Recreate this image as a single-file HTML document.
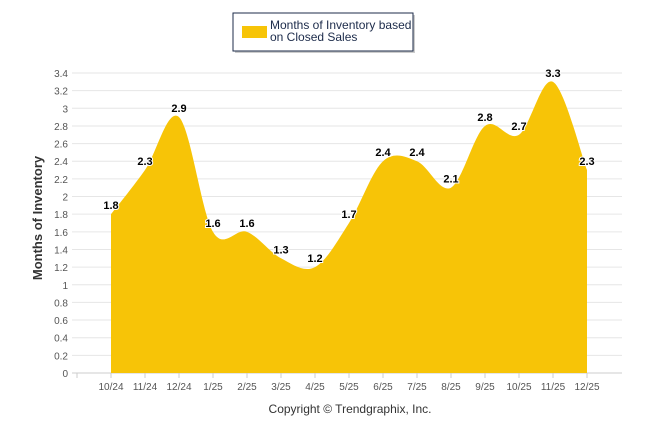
<!DOCTYPE html>
<html><head><meta charset="utf-8"><style>
body{margin:0;background:#fff;font-family:"Liberation Sans",sans-serif}
svg text{font-family:"Liberation Sans",sans-serif}
</style></head><body>
<svg id="c" width="646" height="434">
 <g>
  <rect x="235" y="15" width="180" height="38" fill="#999" opacity="0.5"/>
  <rect x="233" y="13" width="180" height="38" fill="#fff" stroke="#1c2b4a" stroke-width="1"/>
  <rect x="242" y="26" width="25" height="12" fill="#f7c407"/>
  <text x="270" y="29" font-size="12" fill="#1c2b4a">Months of Inventory based</text>
  <text x="270" y="41" font-size="12" fill="#1c2b4a">on Closed Sales</text>
 </g>
 <g id="grid"></g>
 <path id="area" fill="#f7c407"/>
 <g id="labels"></g>
 <text transform="translate(42,218) rotate(-90)" text-anchor="middle" font-size="13" font-weight="bold" fill="#333">Months of Inventory</text>
 <text x="350" y="413" text-anchor="middle" font-size="12" fill="#333">Copyright © Trendgraphix, Inc.</text>
</svg>
<script>
const categories=["10/24","11/24","12/24","1/25","2/25","3/25","4/25","5/25","6/25","7/25","8/25","9/25","10/25","11/25","12/25"];
const values=[1.8,2.3,2.9,1.6,1.6,1.3,1.2,1.7,2.4,2.4,2.1,2.8,2.7,3.3,2.3];
const yTicks=[0,0.2,0.4,0.6,0.8,1,1.2,1.4,1.6,1.8,2,2.2,2.4,2.6,2.8,3,3.2,3.4];
const NS="http://www.w3.org/2000/svg";
const x=i=>111+i*34;
const y=v=>373-v*(300/3.4);
const grid=document.getElementById('grid');
function mk(t,a,p){const e=document.createElementNS(NS,t);for(const k in a)e.setAttribute(k,a[k]);p.appendChild(e);return e;}
yTicks.forEach(t=>{
 const l=mk('line',{x1:72,x2:622,y1:y(t),y2:y(t),stroke:t===0?'#ccc':'#e6e6e6'},grid);
 
 
 const tx=mk('text',{x:68,y:y(t)+4,'text-anchor':'end','font-size':10,fill:'#555'},grid);
 tx.textContent=String(t);
 
 
});
mk('line',{x1:77,x2:77,y1:373,y2:378,stroke:'#ccc'},grid);
categories.forEach((c,i)=>{
 mk('line',{x1:x(i),x2:x(i),y1:373,y2:378,stroke:'#ccc'},grid);
 const tx=mk('text',{x:x(i),y:390,'text-anchor':'middle','font-size':10,fill:'#555'},grid);
 tx.textContent=c;
 
 
});
const pts=values.map((v,i)=>[x(i),y(v)]);
let d=`M${pts[0][0]},373 L${pts[0][0]},${pts[0][1]}`;
for(let i=0;i<pts.length-1;i++){
 const p0=pts[i-1]||pts[i],p1=pts[i],p2=pts[i+1],p3=pts[i+2]||p2;
 const c1=[p1[0]+(p2[0]-p0[0])/6,p1[1]+(p2[1]-p0[1])/6];
 const c2=[p2[0]-(p3[0]-p1[0])/6,p2[1]-(p3[1]-p1[1])/6];
 d+=` C${c1[0]},${c1[1]} ${c2[0]},${c2[1]} ${p2[0]},${p2[1]}`;
}
d+=` L${pts[pts.length-1][0]},373 Z`;
document.getElementById('area').setAttribute('d',d);
const lg=document.getElementById('labels');
values.forEach((v,i)=>{
 const t=mk('text',{x:x(i),y:y(v)-5,'text-anchor':'middle','font-size':11,'font-weight':'bold',fill:'#000',stroke:'#fff','stroke-width':2,'paint-order':'stroke'},lg);
 t.textContent=v.toFixed(1);
 
 
});
</script>
</body></html>
